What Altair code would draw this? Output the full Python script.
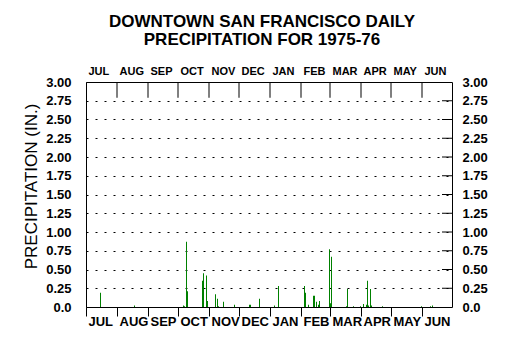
import altair as alt
import pandas as pd

# ---- data ----
dates = [
    "1975-07-15", "1975-08-18",
    "1975-10-06", "1975-10-07", "1975-10-09", "1975-10-10", "1975-10-25", "1975-10-26", "1975-10-29", "1975-10-30",
    "1975-11-07", "1975-11-09", "1975-11-10", "1975-11-15", "1975-11-26",
    "1975-12-11", "1975-12-12", "1975-12-21",
    "1976-01-05", "1976-01-09",
    "1976-02-04", "1976-02-05", "1976-02-08", "1976-02-13", "1976-02-14", "1976-02-16", "1976-02-18", "1976-02-19", "1976-02-29",
    "1976-03-01", "1976-03-02", "1976-03-17", "1976-03-18", "1976-03-24", "1976-03-31",
    "1976-04-03", "1976-04-06", "1976-04-07", "1976-04-08", "1976-04-10", "1976-04-11", "1976-04-22",
    "1976-05-31", "1976-06-09", "1976-06-11",
]
precip = [
    0.19, 0.02,
    0.02, 0.01, 0.87, 0.21, 0.35, 0.45, 0.42, 0.08,
    0.17, 0.11, 0.01, 0.07, 0.03,
    0.03, 0.03, 0.11,
    0.02, 0.28,
    0.28, 0.19, 0.03, 0.15, 0.15, 0.07, 0.03, 0.08, 0.77,
    0.05, 0.67, 0.01, 0.24, 0.01, 0.01,
    0.04, 0.03, 0.35, 0.02, 0.24, 0.02, 0.01,
    0.01, 0.01, 0.02,
]
month_names = ["JUL", "AUG", "SEP", "OCT", "NOV", "DEC", "JAN", "FEB", "MAR", "APR", "MAY", "JUN"]
month_starts = [0, 31, 62, 92, 123, 153, 184, 215, 244, 275, 305, 336]
season_days = 366
y_ticks = [0.0, 0.25, 0.5, 0.75, 1.0, 1.25, 1.5, 1.75, 2.0, 2.25, 2.5, 2.75, 3.0]
inner_ticks = y_ticks[1:-1]

start = pd.Timestamp("1975-07-01")
df = pd.DataFrame({"date": pd.to_datetime(dates), "precip": precip})
df["day"] = (df["date"] - start).dt.days
df["mid"] = df["day"] + 0.5          # middle of the day

months_df = pd.DataFrame({"start": month_starts[1:], "top": 3.0, "bottom": 2.79})
rt_df = pd.DataFrame({"y": inner_ticks, "x1": season_days - 10, "x2": season_days})

label_expr = ("[" + ",".join(f"'{m}'" for m in month_names) + "][indexof(["
              + ",".join(str(s) for s in month_starts) + "], datum.value)]")
ylab_expr = "datum.value == 0 ? '0.0' : format(datum.value, '.2f')"

FONT = "Liberation Sans"
xscale = alt.Scale(domain=[0, season_days], nice=False, zero=False)
yscale = alt.Scale(domain=[0, 3], nice=False)

bars = alt.Chart(df).mark_rule(color="#008000", strokeWidth=1).encode(
    x=alt.X("mid:Q", scale=xscale, axis=alt.Axis(
        orient="bottom", values=month_starts, labelExpr=label_expr, title=None,
        domain=False, grid=False, ticks=True, tickSize=9, tickColor="black",
        labelAlign="left", labelOffset=2, labelPadding=-1, labelBaseline="top",
        labelFont=FONT, labelFontWeight="bold", labelFontSize=13, labelColor="black")),
    y=alt.Y("precip:Q", scale=yscale, axis=alt.Axis(
        orient="left", values=y_ticks, labelExpr=ylab_expr,
        domain=False, ticks=False, grid=True, gridColor="black", gridDash=[2, 7],
        gridWidth=1, gridOpacity=1, labelPadding=15,
        labelFont=FONT, labelFontWeight="bold", labelFontSize=13, labelColor="black",
        title="PRECIPITATION (IN.)", titleFont=FONT, titleFontWeight="normal",
        titleFontSize=17, titleColor="black", titleX=-55, titleY=104,
        titleBaseline="middle", titleAngle=270)),
    y2=alt.datum(0),
)

top_ticks = alt.Chart(months_df).mark_rule(color="black", strokeWidth=1).encode(
    x=alt.X("start:Q", scale=xscale, axis=alt.Axis(
        orient="top", values=month_starts, labelExpr=label_expr, title=None,
        domain=False, grid=False, ticks=False, labelPadding=6,
        labelAlign="left", labelOffset=2,
        labelFont=FONT, labelFontWeight="bold", labelFontSize=11, labelColor="black")),
    y=alt.Y("top:Q", scale=yscale, axis=None),
    y2="bottom:Q",
)

right_ticks = alt.Chart(rt_df).mark_rule(color="black", strokeWidth=1).encode(
    x=alt.X("x1:Q", scale=xscale, axis=None),
    x2="x2:Q",
    y=alt.Y("y:Q", scale=yscale, axis=alt.Axis(
        orient="right", values=y_ticks, labelExpr=ylab_expr,
        domain=False, ticks=False, grid=False, labelPadding=10, title=None,
        labelFont=FONT, labelFontWeight="bold", labelFontSize=13, labelColor="black")),
)

chart = alt.layer(bars, top_ticks, right_ticks).resolve_axis(
    x="independent", y="independent"
).properties(
    width=366, height=225,
    autosize=alt.AutoSizeParams(type="none"),
    padding={"left": 78, "top": 74, "right": 56, "bottom": 43},
    title=alt.Title(["DOWNTOWN SAN FRANCISCO DAILY", "PRECIPITATION FOR 1975-76"],
                    font=FONT, fontSize=17, fontWeight="bold", color="black",
                    anchor="middle", dx=-7, offset=16, lineHeight=18),
).configure(
    background="white",
    view=alt.ViewConfig(stroke="black", strokeWidth=1),
)

chart.save("out.html", embed_options={"renderer": "svg", "actions": False})
